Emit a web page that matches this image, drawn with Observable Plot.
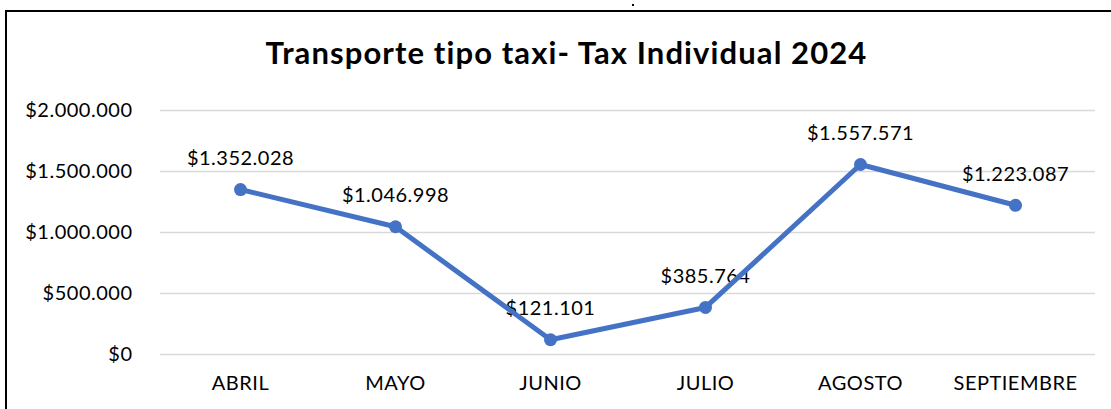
<!DOCTYPE html>
<html>
<head>
<meta charset="utf-8">
<script src="https://cdn.jsdelivr.net/npm/d3@7"></script>
<script src="https://cdn.jsdelivr.net/npm/@observablehq/plot@0.6"></script>
<style>
  html, body { margin: 0; padding: 0; background: #fff; }
  #wrap { position: relative; width: 1111px; height: 409px; overflow: hidden; font-family: Lato, sans-serif; }
  #frame { position: absolute; left: 5px; top: 10px; width: 1300px; height: 600px; border-left: 2px solid #000; border-top: 2px solid #000; }
  #dot { position: absolute; left: 632px; top: 4px; width: 2px; height: 2px; background: #000; }
  #title { position: relative; height: 90px; width: 1133px; text-align: center; font: bold 31px Lato, sans-serif; letter-spacing: 1.1px; line-height: 31px; padding-top: 37px; box-sizing: border-box; color: #000; }
  #chart { position: relative; }
</style>
</head>
<body>
<div id="wrap">
  <div id="frame"></div>
  <div id="dot"></div>
  <div id="title">Transporte tipo taxi- Tax Individual 2024</div>
  <div id="chart"></div>
</div>
<script>
const months = ["ABRIL", "MAYO", "JUNIO", "JULIO", "AGOSTO", "SEPTIEMBRE"];
const values = [1352028, 1046998, 121101, 385764, 1557571, 1223087];
const yTicks = [0, 500000, 1000000, 1500000, 2000000];

const locale = d3.formatLocale({decimal: ",", thousands: ".", grouping: [3], currency: ["$", ""]});
const fmt = locale.format("$,.0f");

const data = months.map((m, i) => ({month: m, value: values[i]}));

const chart = Plot.plot({
  width: 1111,
  height: 319,
  marginTop: 20,
  marginBottom: 55,
  marginLeft: 160,
  marginRight: 16,
  style: {fontFamily: "Lato, sans-serif", fontSize: "20px", letterSpacing: "0.5px", color: "#000", background: "transparent"},
  x: {type: "point", domain: months, padding: 0.5, label: null},
  y: {domain: [0, 2000000], label: null},
  marks: [
    Plot.gridY(yTicks, {stroke: "#d9d9d9", strokeOpacity: 1, strokeWidth: 1.5}),
    Plot.axisY(yTicks, {tickSize: 0, tickPadding: 28, tickFormat: fmt, label: null, fontSize: 20}),
    Plot.axisX(months, {tickSize: 0, tickPadding: 21, label: null, fontSize: 20}),
    Plot.text(data, {x: "month", y: "value", text: d => fmt(d.value), dy: -31, fontSize: 20, fill: "#000"}),
    Plot.line(data, {x: "month", y: "value", stroke: "#4472C4", strokeWidth: 5, strokeLinecap: "round", strokeLinejoin: "round"}),
    Plot.dot(data, {x: "month", y: "value", r: 6.5, fill: "#4472C4", stroke: "none"})
  ]
});
document.getElementById("chart").appendChild(chart);
</script>
</body>
</html>
